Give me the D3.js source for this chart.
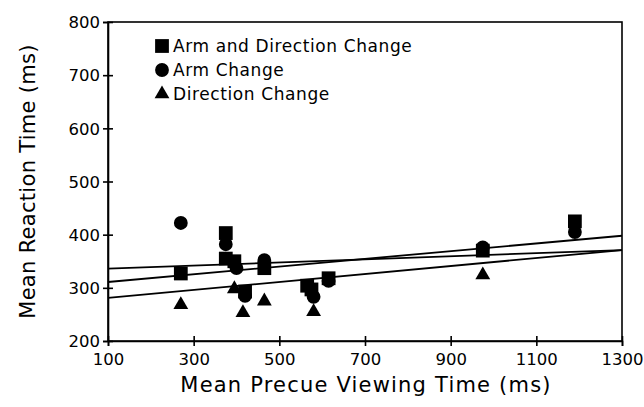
<!DOCTYPE html>
<html><head><meta charset="utf-8">
<script src="https://cdn.jsdelivr.net/npm/d3@7"></script>
<style>html,body{margin:0;padding:0;background:#fff;}</style>
</head><body>
<svg id="c" width="644" height="407"></svg>
<script>
const xTicks = [100, 300, 500, 700, 900, 1100, 1300];
const yTicks = [200, 300, 400, 500, 600, 700, 800];

const armDirX = [270, 375, 375, 395, 420, 465, 565, 575, 615, 975, 1190];
const armDirY = [327, 403, 355, 350, 293, 337, 304, 297, 318, 370, 425];
const armX = [270, 375, 400, 420, 465, 580, 615, 975, 1190];
const armY = [422, 382, 337, 285, 352, 283, 313, 376, 405];
const dirX = [270, 395, 415, 465, 580, 975];
const dirY = [268, 298, 253, 275, 255, 324];

const fitNames = ["Arm and Direction Change", "Arm Change", "Direction Change"];
const fitStart = [311, 336, 281];   // at x = 100
const fitEnd = [398, 371, 371];     // at x = 1300

const legendNames = ["Arm and Direction Change", "Arm Change", "Direction Change"];

const svg = d3.select("#c");
const L = 108, R = 622, T = 22, B = 341;
const x = d3.scaleLinear().domain([100, 1300]).range([L, R]);
const y = d3.scaleLinear().domain([200, 800]).range([B, T]);
const font = "DejaVu Sans";

// frame
svg.append("rect").attr("x", L).attr("y", T).attr("width", R - L).attr("height", B - T)
  .attr("fill", "none").attr("stroke", "#000").attr("stroke-width", 1.6);

// axes
const xa = svg.append("g").attr("transform", `translate(0,${B})`)
  .call(d3.axisBottom(x).tickValues(xTicks).tickSize(5).tickPadding(5).tickFormat(d3.format("d")));
xa.selectAll(".tick line").clone().attr("y2", -5);
const ya = svg.append("g").attr("transform", `translate(${L},0)`)
  .call(d3.axisLeft(y).tickValues(yTicks).tickSize(5).tickPadding(3).tickFormat(d3.format("d")));
ya.selectAll(".tick line").clone().attr("x2", 5);
svg.selectAll(".domain").attr("stroke-width", 1.6);
svg.selectAll(".tick line").attr("stroke-width", 1.6);
svg.selectAll(".tick text").attr("font-family", font).attr("font-size", 16.5).attr("fill", "#000");
xa.selectAll(".tick text").attr("dy", "0.85em");
ya.selectAll(".tick text").attr("dy", "0.35em");

// titles
svg.append("text").attr("x", 366).attr("y", 392).attr("text-anchor", "middle")
  .attr("font-family", font).attr("font-size", 21).attr("letter-spacing", 1.2)
  .text("Mean Precue Viewing Time (ms)");
svg.append("text").attr("transform", `translate(35,${(T + B) / 2}) rotate(-90)`).attr("text-anchor", "middle")
  .attr("font-family", font).attr("font-size", 21).attr("letter-spacing", 0.3)
  .text("Mean Reaction Time (ms)");

// fit lines
const plot = svg.append("g");
plot.selectAll("line.fit").data(fitNames).join("line").attr("class", "fit")
  .attr("x1", x(100)).attr("x2", x(1300))
  .attr("y1", (d, i) => y(fitStart[i])).attr("y2", (d, i) => y(fitEnd[i]))
  .attr("stroke", "#000").attr("stroke-width", 1.8);

const sym = {
  sq: d3.symbol().type(d3.symbolSquare).size(190),
  ci: d3.symbol().type(d3.symbolCircle).size(150),
  tr: d3.symbol().type(d3.symbolTriangle).size(95)
};
function pts(xs, ys, s) {
  plot.append("g").selectAll("path").data(xs).join("path")
    .attr("transform", (d, i) => `translate(${x(d)},${y(ys[i])})`)
    .attr("d", s).attr("fill", "#000");
}
pts(armDirX, armDirY, sym.sq);
pts(armX, armY, sym.ci);
pts(dirX, dirY, sym.tr);

// legend
const lg = svg.append("g");
const lsyms = [sym.sq, sym.ci, sym.tr];
legendNames.forEach((n, i) => {
  const yy = 46 + i * 24;
  lg.append("path").attr("transform", `translate(162,${yy})`).attr("d", lsyms[i]).attr("fill", "#000");
  lg.append("text").attr("x", 173).attr("y", yy).attr("dy", "0.36em")
    .attr("font-family", font).attr("font-size", 17).attr("letter-spacing", 0.6).text(n);
});
</script>
</body></html>
